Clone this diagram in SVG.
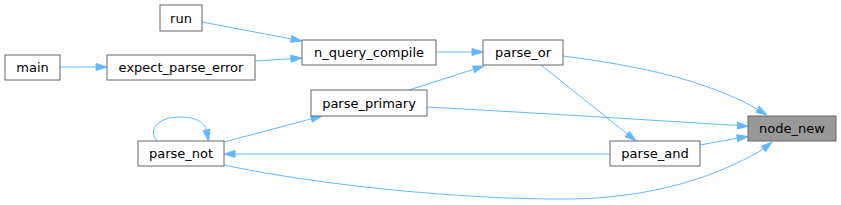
<svg xmlns="http://www.w3.org/2000/svg" width="841" height="205" viewBox="0 0 841 205">
<style>
.node rect{fill:#ffffff;stroke:#666666;stroke-width:1}
.node.hl rect{fill:#999999}
.node text{font-family:"DejaVu Sans","Liberation Sans",sans-serif;font-size:13px;fill:#000000;text-anchor:middle}
.edge path{fill:none;stroke:#63b8ff;stroke-width:1}
.edge polygon{fill:#63b8ff;stroke:#63b8ff;stroke-width:1}
</style>
<rect x="0" y="0" width="841" height="205" fill="#ffffff"/>
<g id="edges">
  <g class="edge"><path d="M563,56 C640,66 706,80 757.6,109.3"/><polygon points="755.8,112.3 767,115 759.4,106.3"/></g>
  <g class="edge"><path d="M427,107 C537,113 649,120 737.5,125.5"/><polygon points="737.3,122 748,126.2 737.7,129"/></g>
  <g class="edge"><path d="M700,145 L737.2,138.3"/><polygon points="736.6,134.85 748,136.5 737.8,141.75"/></g>
  <g class="edge"><path d="M224,165 C322,186 470,200 570,199 C650,198 715,178 763.5,149"/><polygon points="761.3,146.3 772,142 765.7,151.7"/></g>
  <g class="edge"><path d="M610,154 L235,154"/><polygon points="235,150.5 224.5,154 235,157.5"/></g>
  <g class="edge"><path d="M541,65 L627.4,134.1"/><polygon points="625.2,136.8 636,141 629.6,131.4"/></g>
  <g class="edge"><path d="M409,90 L473.5,69.4"/><polygon points="472.5,66.1 484,66 474.6,72.7"/></g>
  <g class="edge"><path d="M224,142 L311.4,118.8"/><polygon points="310.5,115.4 322,116 312.3,122.2"/></g>
  <g class="edge"><path d="M157,141 C148,131 156,117 180,117 C196,117 204,122 206.5,130"/><polygon points="203,130.6 208.5,141 210,129.4"/></g>
  <g class="edge"><path d="M436,52 L472,52"/><polygon points="472,48.5 483,52 472,55.5"/></g>
  <g class="edge"><path d="M202,22 L291.2,38.9"/><polygon points="290.55,42.3 302,41 291.85,35.5"/></g>
  <g class="edge"><path d="M255,61 L291,58.7"/><polygon points="290.8,55.2 302,58 291.2,62.2"/></g>
  <g class="edge"><path d="M60,67 L96,67"/><polygon points="96,63.5 107,67 96,70.5"/></g>
</g>
<g id="node_new" class="node hl"><rect x="748" y="116" width="88" height="25"/><text x="792" y="133">node_new</text></g>
<g id="parse_and" class="node"><rect x="610" y="141" width="90" height="25"/><text x="655" y="158">parse_and</text></g>
<g id="parse_or" class="node"><rect x="483" y="40" width="80" height="25"/><text x="523" y="57">parse_or</text></g>
<g id="n_query_compile" class="node"><rect x="302" y="40" width="134" height="25"/><text x="369" y="57">n_query_compile</text></g>
<g id="parse_primary" class="node"><rect x="311" y="90" width="116" height="26"/><text x="369" y="107.5">parse_primary</text></g>
<g id="parse_not" class="node"><rect x="138" y="141" width="86" height="25"/><text x="181" y="158">parse_not</text></g>
<g id="run" class="node"><rect x="160" y="5" width="42" height="26"/><text x="181" y="22.5">run</text></g>
<g id="main" class="node"><rect x="5" y="55" width="55" height="25"/><text x="32.5" y="72">main</text></g>
<g id="expect_parse_error" class="node"><rect x="107" y="55" width="148" height="25"/><text x="181" y="72">expect_parse_error</text></g>
</svg>
